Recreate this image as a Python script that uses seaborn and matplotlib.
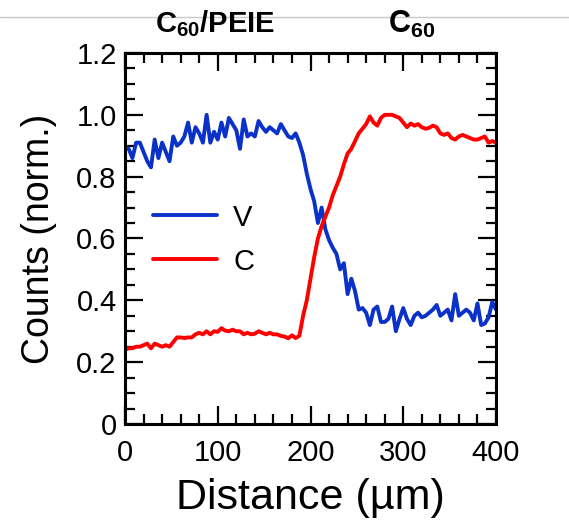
import numpy as np
import pandas as pd
import seaborn as sns
import matplotlib
matplotlib.use("Agg")
import matplotlib.pyplot as plt
from matplotlib.ticker import MultipleLocator, FuncFormatter
from matplotlib.lines import Line2D

# ---------------- data ----------------
distance = list(range(0, 401, 4))

V = [0.90, 0.89, 0.86, 0.91, 0.91, 0.88, 0.85, 0.83, 0.92, 0.86,
     0.91, 0.88, 0.85, 0.93, 0.90, 0.91, 0.93, 0.975, 0.91, 0.96,
     0.94, 0.91, 1.00, 0.91, 0.945, 0.92, 0.975, 0.93, 0.99, 0.97,
     0.95, 0.89, 0.985, 0.93, 0.94, 0.93, 0.98, 0.96, 0.945, 0.96,
     0.95, 0.94, 0.97, 0.95, 0.93, 0.925, 0.94, 0.91, 0.87, 0.81,
     0.76, 0.72, 0.65, 0.70, 0.63, 0.595, 0.57, 0.55, 0.50, 0.52,
     0.42, 0.47, 0.43, 0.37, 0.375, 0.36, 0.32, 0.37, 0.38, 0.33,
     0.33, 0.34, 0.38, 0.30, 0.34, 0.375, 0.34, 0.32, 0.35, 0.36,
     0.345, 0.35, 0.36, 0.37, 0.385, 0.35, 0.36, 0.37, 0.335, 0.42,
     0.35, 0.36, 0.37, 0.36, 0.335, 0.39, 0.32, 0.325, 0.345, 0.395,
     0.37]

C = [0.24, 0.245, 0.245, 0.25, 0.25, 0.255, 0.26, 0.245, 0.26, 0.255,
     0.25, 0.255, 0.25, 0.265, 0.28, 0.28, 0.278, 0.28, 0.28, 0.29,
     0.295, 0.29, 0.30, 0.29, 0.30, 0.298, 0.31, 0.302, 0.30, 0.305,
     0.30, 0.30, 0.29, 0.295, 0.29, 0.292, 0.30, 0.295, 0.29, 0.295,
     0.29, 0.29, 0.285, 0.283, 0.277, 0.287, 0.278, 0.285, 0.35, 0.40,
     0.47, 0.54, 0.60, 0.64, 0.67, 0.70, 0.74, 0.77, 0.80, 0.84,
     0.875, 0.89, 0.915, 0.94, 0.955, 0.97, 0.995, 0.975, 0.965, 0.99,
     1.00, 1.00, 1.00, 0.995, 0.99, 0.975, 0.96, 0.972, 0.965, 0.97,
     0.96, 0.955, 0.958, 0.965, 0.96, 0.94, 0.935, 0.94, 0.925, 0.92,
     0.93, 0.935, 0.93, 0.925, 0.92, 0.92, 0.925, 0.93, 0.91, 0.915,
     0.91]

series_names = ["V", "C"]
series_colors = ["#0a32c8", "#ff0000"]
top_labels = [r"C$_{\mathbf{60}}$/PEIE", r"C$_{\mathbf{60}}$"]
xlabel = "Distance (µm)"
ylabel = "Counts (norm.)"

df = pd.DataFrame({
    "Distance": distance * 2,
    "Counts": V + C,
    "series": ["V"] * len(V) + ["C"] * len(C),
})

# ---------------- style ----------------
sns.set_theme(style="ticks")
plt.rcParams["font.family"] = ["Liberation Sans", "DejaVu Sans"]
plt.rcParams["mathtext.fontset"] = "custom"
plt.rcParams["mathtext.rm"] = "Liberation Sans"
plt.rcParams["mathtext.bf"] = "Liberation Sans:bold"

fig = plt.figure(figsize=(5.69, 5.25), dpi=100)
ax = fig.add_axes([125 / 569, 1 - 424 / 525, 371 / 569, 371 / 525])

sns.lineplot(data=df, x="Distance", y="Counts", hue="series",
             hue_order=series_names, palette=series_colors,
             ax=ax, legend=True)
for ln in ax.get_lines():
    ln.set_linewidth(2.8)
    ln.set_solid_joinstyle("round")

ax.set_xlim(0, 400)
ax.set_ylim(0, 1.2)
ax.xaxis.set_major_locator(MultipleLocator(100))
ax.xaxis.set_minor_locator(MultipleLocator(20))
ax.yaxis.set_major_locator(MultipleLocator(0.2))
ax.yaxis.set_minor_locator(MultipleLocator(0.05))
ax.yaxis.set_major_formatter(FuncFormatter(lambda v, p: "0" if abs(v) < 1e-9 else f"{v:.1f}"))
ax.xaxis.set_major_formatter(FuncFormatter(lambda v, p: f"{v:.0f}"))

ax.tick_params(which="both", direction="in", top=True, right=True,
               color="black", width=1.6)
ax.tick_params(which="major", length=13, labelsize=21, labelcolor="black")
ax.tick_params(axis="y", which="major", pad=6)
ax.tick_params(axis="x", which="major", pad=11)
ax.tick_params(which="minor", length=7)
for s in ax.spines.values():
    s.set_linewidth(2.2)
    s.set_color("black")

ax.set_xlabel(xlabel, fontsize=31, labelpad=8, color="black")
ax.set_ylabel(ylabel, fontsize=27, labelpad=14, color="black")

leg = ax.legend(loc="center left", bbox_to_anchor=(0.075, 0.497), frameon=False,
                fontsize=21, handlelength=2.2, handletextpad=0.55,
                labelspacing=0.55, borderpad=0, borderaxespad=0)
for h in leg.get_lines():
    h.set_linewidth(2.8)
for t in leg.get_texts():
    t.set_color("black")

# top rule and region labels
fig.add_artist(Line2D([0, 1], [1 - 16.5 / 525] * 2, transform=fig.transFigure,
                      color="#c8c8c8", linewidth=1.0, zorder=0))
fig.text(215 / 569, 1 - 24 / 525, top_labels[0], ha="center", va="center",
         fontsize=21, fontweight="bold", color="black")
fig.text(412 / 569, 1 - 24 / 525, top_labels[1], ha="center", va="center",
         fontsize=22, fontweight="bold", color="black")

fig.savefig("out.png", dpi=100, facecolor="white")
